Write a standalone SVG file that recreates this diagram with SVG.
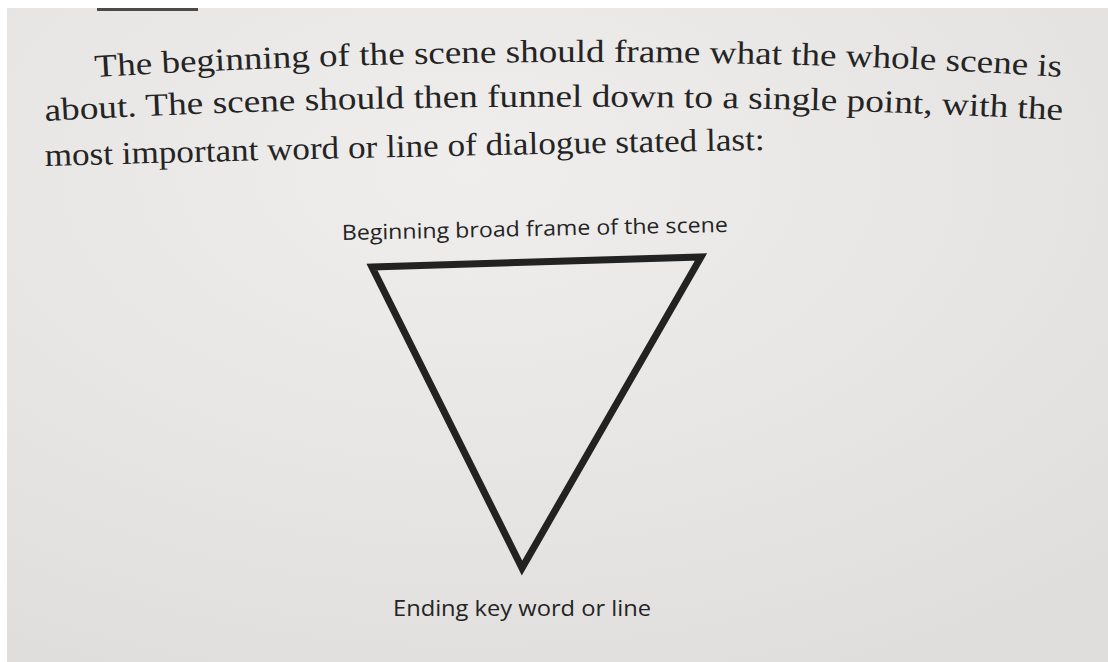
<svg xmlns="http://www.w3.org/2000/svg" width="1108" height="662" viewBox="0 0 1108 662">
  <defs>
    <radialGradient id="paper" cx="0.42" cy="0.25" r="0.85">
      <stop offset="0" stop-color="#efeeec"/>
      <stop offset="0.6" stop-color="#e6e5e3"/>
      <stop offset="1" stop-color="#dfdedc"/>
    </radialGradient>
    <path id="l1" d="M95,77 Q600,47 1062,77"/>
    <path id="l2" d="M45,121 Q560,93 1062,120"/>
    <path id="l3" d="M45,166 Q400,156 765,150"/>
    <style>
      .body { font-family: "Liberation Serif", "DejaVu Serif", serif; font-size: 32px; fill: #242424; }
      .lbl { font-family: "Open Sans", "Noto Sans", sans-serif; font-size: 21px; fill: #242424; }
      .edge { fill: none; stroke: #222; stroke-width: 7; stroke-linejoin: miter; stroke-miterlimit: 10; }
    </style>
  </defs>
  <rect x="0" y="0" width="1108" height="662" fill="#ffffff"/>
  <rect x="7" y="8" width="1101" height="654" fill="url(#paper)"/>
  <line x1="97" y1="9.5" x2="198" y2="9.5" stroke="#4a4a4a" stroke-width="3"/>

  <g id="paragraph">
    <text class="body"><textPath href="#l1" textLength="967" lengthAdjust="spacingAndGlyphs">The beginning of the scene should frame what the whole scene is</textPath></text>
    <text class="body"><textPath href="#l2" textLength="1018" lengthAdjust="spacingAndGlyphs">about. The scene should then funnel down to a single point, with the</textPath></text>
    <text class="body"><textPath href="#l3" textLength="720" lengthAdjust="spacingAndGlyphs">most important word or line of dialogue stated last:</textPath></text>
  </g>

  <g id="funnel">
    <polygon class="edge" points="372,267 701,257 522,568"/>
  </g>

  <g id="label-top">
    <text class="lbl" x="342" y="240" textLength="386" lengthAdjust="spacingAndGlyphs" transform="rotate(-1.2 342 240)">Beginning broad frame of the scene</text>
  </g>
  <g id="label-bottom">
    <text class="lbl" x="393" y="616" textLength="258" lengthAdjust="spacingAndGlyphs">Ending key word or line</text>
  </g>
</svg>
